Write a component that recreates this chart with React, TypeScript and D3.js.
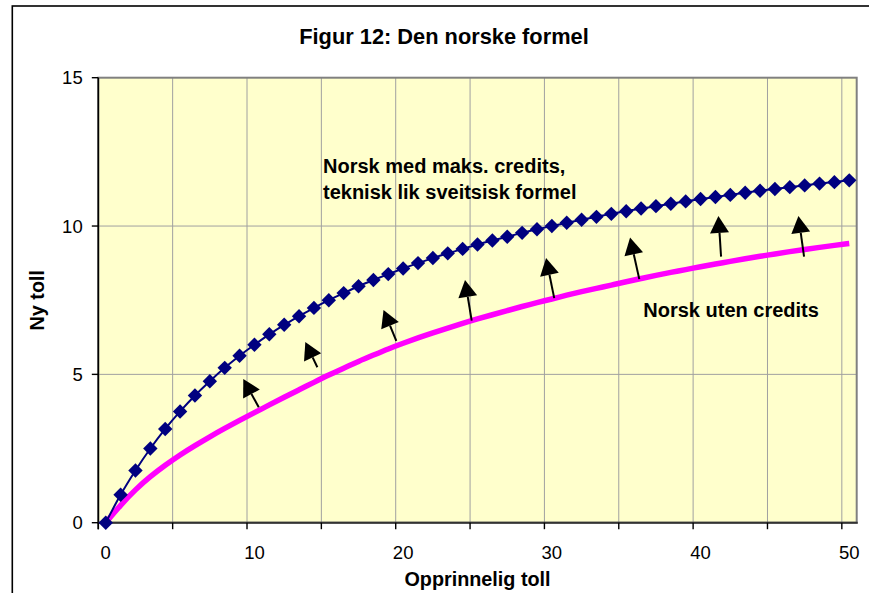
import React from "react";
import * as d3 from "d3";

// ---------- data ----------
const categories = [
  0, 1, 2, 3, 4, 5, 6, 7, 8, 9, 10, 11, 12, 13, 14, 15, 16, 17, 18, 19, 20,
  21, 22, 23, 24, 25, 26, 27, 28, 29, 30, 31, 32, 33, 34, 35, 36, 37, 38, 39, 40,
  41, 42, 43, 44, 45, 46, 47, 48, 49, 50,
];

// "Norsk med maks. credits, teknisk lik sveitsisk formel"
const maxCredits = [
  0, 0.94, 1.76, 2.5, 3.16, 3.75, 4.29, 4.77, 5.22, 5.63, 6.0, 6.35, 6.67, 6.96,
  7.24, 7.5, 7.74, 7.97, 8.18, 8.38, 8.57, 8.75, 8.92, 9.08, 9.23, 9.38, 9.51,
  9.64, 9.77, 9.89, 10.0, 10.11, 10.21, 10.31, 10.41, 10.5, 10.59, 10.67, 10.75,
  10.83, 10.91, 10.98, 11.05, 11.12, 11.19, 11.25, 11.31, 11.37, 11.43, 11.48,
  11.54,
];

// "Norsk uten credits"
const noCredits = [
  0, 0.6, 1.12, 1.56, 1.94, 2.29, 2.6, 2.9, 3.18, 3.45, 3.71, 3.97, 4.23, 4.48,
  4.73, 4.98, 5.21, 5.44, 5.65, 5.86, 6.05, 6.23, 6.4, 6.56, 6.72, 6.87, 7.01,
  7.15, 7.29, 7.42, 7.54, 7.67, 7.79, 7.9, 8.01, 8.12, 8.23, 8.34, 8.44, 8.53,
  8.63, 8.72, 8.81, 8.9, 8.98, 9.06, 9.14, 9.21, 9.28, 9.35, 9.41,
];

const yTicks = [0, 5, 10, 15];
const yGrid = [5, 10];
const xLabelCats = [0, 10, 20, 30, 40, 50];
const xTickCats = [0, 5, 10, 15, 20, 25, 30, 35, 40, 45, 50];

// arrows (category units / value units): tail -> tip
const arrowTailX = [10.29, 14.23, 19.54, 24.61, 30.16, 35.88, 41.38, 46.96];
const arrowTailY = [3.89, 5.24, 6.13, 6.81, 7.57, 8.21, 8.97, 8.97];
const arrowTipX = [9.25, 13.42, 18.68, 24.16, 29.61, 35.26, 41.2, 46.58];
const arrowTipY = [4.84, 6.09, 7.17, 8.18, 8.92, 9.61, 10.34, 10.34];

const title = "Figur 12: Den norske formel";
const xTitle = "Opprinnelig toll";
const yTitle = "Ny toll";
const label1a = "Norsk med maks. credits,";
const label1b = "teknisk lik sveitsisk formel";
const label2 = "Norsk uten credits";

// ---------- layout ----------
const W = 869;
const H = 593;
const L = 98.3;
const R = 856.7;
const T = 77.7;
const B = 522.7;
const FONT = "Arial, 'Liberation Sans', Helvetica, sans-serif";

export default function App() {
  const x = d3.scaleLinear().domain([-0.5, categories.length - 0.5]).range([L, R]);
  const y = d3.scaleLinear().domain([0, 15]).range([B, T]);

  const pts = (vals: number[]) =>
    categories.map((c, i) => [x(c), y(vals[i])] as [number, number]);

  const blueLine = d3.line<[number, number]>().curve(d3.curveMonotoneX);
  const pinkLine = d3.line<[number, number]>().curve(d3.curveBasis);
  const bluePts = pts(maxCredits);
  const pinkPts = pts(noCredits);

  const r = 7.2;
  const diamond = `M0,${-r}L${r},0L0,${r}L${-r},0Z`;

  const arrows = arrowTailX.map((_, i) => {
    const x1 = x(arrowTailX[i]);
    const y1 = y(arrowTailY[i]);
    const x2 = x(arrowTipX[i]);
    const y2 = y(arrowTipY[i]);
    const dx = x2 - x1;
    const dy = y2 - y1;
    const len = Math.sqrt(dx * dx + dy * dy);
    const ux = dx / len;
    const uy = dy / len;
    const hl = 17;
    const hw = 9.5;
    const bx = x2 - ux * hl;
    const by = y2 - uy * hl;
    const head = `M${x2},${y2}L${bx - uy * hw},${by + ux * hw}L${bx + uy * hw},${by - ux * hw}Z`;
    return { x1, y1, bx, by, head };
  });

  const bandLeft = (c: number) => x(c - 0.5);

  return (
    <svg
      width={W}
      height={H}
      style={{ position: "absolute", left: 0, top: 0, background: "#fff" }}
      fontFamily={FONT}
    >
      <rect x={0} y={0} width={W} height={H} fill="#fff" />
      {/* chart border */}
      <rect x={12.3} y={6} width={900} height={700} fill="none" stroke="#000" strokeWidth={1.6} />

      {/* plot area */}
      <rect x={L} y={T} width={R - L} height={B - T} fill="#FFFFCC" />
      {yGrid.map((v) => (
        <line key={"hg" + v} x1={L} x2={R} y1={y(v)} y2={y(v)} stroke="#a0a0a0" strokeWidth={1} />
      ))}
      {xTickCats
        .filter((c) => c > 0)
        .map((c) => (
          <line
            key={"vg" + c}
            x1={bandLeft(c)}
            x2={bandLeft(c)}
            y1={T}
            y2={B}
            stroke="#a0a0a0"
            strokeWidth={1}
          />
        ))}
      <rect x={L} y={T} width={R - L} height={B - T} fill="none" stroke="#808080" strokeWidth={2} />

      {/* axes */}
      <line x1={L} x2={L} y1={T} y2={B + 6.5} stroke="#000" strokeWidth={1.6} />
      <line x1={L} x2={R + 1} y1={B} y2={B} stroke="#333" strokeWidth={2} />
      {yTicks.map((v) => (
        <g key={"yt" + v}>
          <line x1={L - 6.5} x2={L} y1={y(v)} y2={y(v)} stroke="#000" strokeWidth={1.4} />
          <text x={82.7} y={y(v) + 6.6} textAnchor="end" fontSize={18.5} fill="#000">
            {v}
          </text>
        </g>
      ))}
      {xTickCats.map((c) => (
        <line
          key={"xt" + c}
          x1={bandLeft(c)}
          x2={bandLeft(c)}
          y1={B}
          y2={B + 6.5}
          stroke="#000"
          strokeWidth={1.4}
        />
      ))}
      {xLabelCats.map((c) => (
        <text key={"xl" + c} x={x(c)} y={558.5} textAnchor="middle" fontSize={18.5} fill="#000">
          {c}
        </text>
      ))}

      {/* series */}
      <path d={pinkLine(pinkPts) || ""} fill="none" stroke="#FF00FF" strokeWidth={5.5} />
      <path d={blueLine(bluePts) || ""} fill="none" stroke="#000080" strokeWidth={2} />
      {bluePts.map((p, i) => (
        <path key={"d" + i} d={diamond} transform={`translate(${p[0]},${p[1]})`} fill="#000080" />
      ))}

      {/* arrows */}
      {arrows.map((a, i) => (
        <g key={"a" + i}>
          <line x1={a.x1} y1={a.y1} x2={a.bx} y2={a.by} stroke="#000" strokeWidth={2} />
          <path d={a.head} fill="#000" />
        </g>
      ))}

      {/* texts */}
      <text x={444} y={44.3} textAnchor="middle" fontSize={21.8} fontWeight="bold" fill="#000">
        {title}
      </text>
      <text x={323} y={172.7} fontSize={20} fontWeight="bold" fill="#000">
        {label1a}
      </text>
      <text x={323} y={199.3} fontSize={20} fontWeight="bold" fill="#000">
        {label1b}
      </text>
      <text x={643.3} y={317.3} fontSize={20} fontWeight="bold" fill="#000">
        {label2}
      </text>
      <text x={(L + R) / 2} y={586} textAnchor="middle" fontSize={19.8} fontWeight="bold" fill="#000">
        {xTitle}
      </text>
      <text
        transform={`translate(43.5, ${(T + B) / 2}) rotate(-90)`}
        textAnchor="middle"
        fontSize={19.8}
        fontWeight="bold"
        fill="#000"
      >
        {yTitle}
      </text>
    </svg>
  );
}
